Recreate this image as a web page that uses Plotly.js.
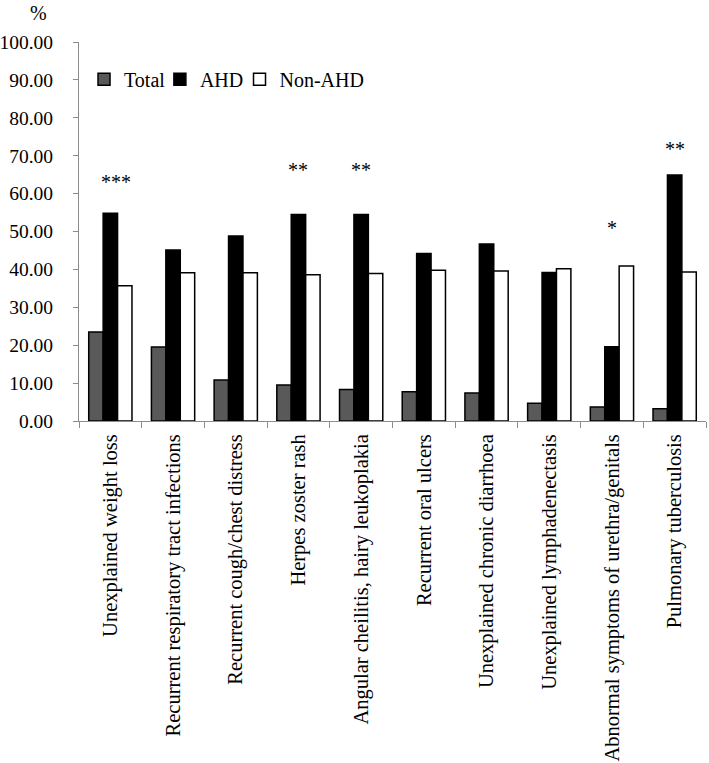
<!DOCTYPE html>
<html>
<head>
<meta charset="utf-8">
<script src="https://cdn.plot.ly/plotly-3.0.1.min.js"></script>
<style>html,body{margin:0;padding:0;background:#fff}#chart{width:709px;height:763px}</style>
</head>
<body>
<div id="chart"></div>
<script>
const categories = [
  "Unexplained weight loss",
  "Recurrent respiratory tract infections",
  "Recurrent cough/chest distress",
  "Herpes zoster rash",
  "Angular cheilitis, hairy leukoplakia",
  "Recurrent oral ulcers",
  "Unexplained chronic diarrhoea",
  "Unexplained lymphadenectasis",
  "Abnormal symptoms of urethra/genitals",
  "Pulmonary tuberculosis"
];
const totalValues  = [23.5, 19.5, 10.8, 9.5, 8.3, 7.7, 7.4, 4.7, 3.7, 3.2];
const ahdValues    = [54.8, 45.1, 48.8, 54.5, 54.5, 44.2, 46.7, 39.2, 19.6, 64.9];
const nonAhdValues = [35.7, 39.1, 39.1, 38.6, 38.9, 39.8, 39.6, 40.2, 40.9, 39.3];
const sigLabels    = ["***", "", "", "**", "**", "", "", "", "*", "**"];
const sigHeights   = [63.0, 0, 0, 66.2, 66.2, 0, 0, 0, 50.8, 71.8];
const yTickValues  = [0, 10, 20, 30, 40, 50, 60, 70, 80, 90, 100];

const FONT = '"Liberation Serif", "Times New Roman", serif';

const traces = [
  {type: "bar", name: "Total", x: categories, y: totalValues, legend: "legend",
   marker: {color: "#595959", line: {color: "#000", width: 1.5}}},
  {type: "bar", name: "AHD", x: categories, y: ahdValues, legend: "legend2",
   marker: {color: "#000", line: {color: "#000", width: 1.5}}},
  {type: "bar", name: "Non-AHD", x: categories, y: nonAhdValues, legend: "legend3",
   marker: {color: "#fff", line: {color: "#000", width: 1.5}}}
];

const annotations = [];
sigLabels.forEach((s, i) => {
  if (s) annotations.push({x: categories[i], y: sigHeights[i], xref: "x", yref: "y",
    text: s, showarrow: false, xshift: i === 0 ? 6 : 0,
    font: {family: FONT, size: 20, color: "#000"}, yanchor: "middle", xanchor: "center"});
});
annotations.push({xref: "paper", yref: "paper", x: -0.065, y: 1.077, text: "%",
  xanchor: "center", yanchor: "middle",
  showarrow: false, font: {family: FONT, size: 20, color: "#000"}});

function legendAt(x) {
  return {orientation: "h", x: x, y: 0.902, xanchor: "left", yanchor: "middle",
    font: {family: FONT, size: 20, color: "#000"}, bgcolor: "rgba(0,0,0,0)",
    itemclick: false, itemdoubleclick: false};
}

const layout = {
  width: 709, height: 763,
  margin: {l: 79, r: 3, t: 42, b: 342},
  paper_bgcolor: "#fff", plot_bgcolor: "#fff",
  font: {family: FONT, size: 20, color: "#000"},
  barmode: "group", bargap: 0.31, bargroupgap: 0,
  showlegend: true,
  legend: legendAt(0.008),
  legend2: legendAt(0.129),
  legend3: legendAt(0.256),
  xaxis: {type: "category", tickangle: -90, showline: true, linecolor: "#8c8c8c", linewidth: 1,
    ticks: "outside", ticklen: 6, tickcolor: "#8c8c8c", tickson: "boundaries",
    showgrid: false, zeroline: false, tickfont: {family: FONT, size: 20.5, color: "#000"},
    ticklabelstandoff: 4, fixedrange: true},
  yaxis: {range: [0, 100], tickvals: yTickValues, tickformat: ".2f", showline: true,
    linecolor: "#8c8c8c", linewidth: 1, ticks: "outside", ticklen: 5, tickcolor: "#8c8c8c",
    showgrid: false, zeroline: false, tickfont: {family: FONT, size: 19.5, color: "#000"},
    ticklabelstandoff: 16, fixedrange: true},
  annotations: annotations
};

Plotly.newPlot("chart", traces, layout, {displayModeBar: false, staticPlot: true});
</script>
</body>
</html>
